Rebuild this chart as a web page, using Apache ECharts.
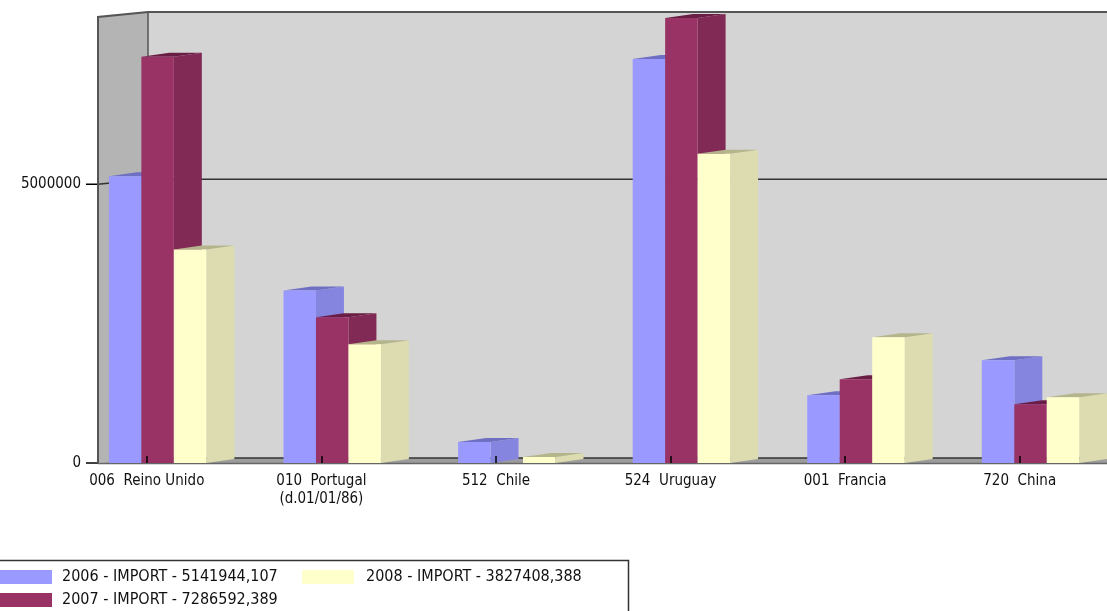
<!DOCTYPE html>
<html>
<head>
<meta charset="utf-8">
<title>IMPORT 2006-2008</title>
<script src="https://cdn.jsdelivr.net/npm/echarts@6/dist/echarts.min.js"></script>
<style>
  html, body { margin: 0; padding: 0; background: #ffffff; }
  #chart { width: 1107px; height: 611px; }
</style>
</head>
<body>
<div id="chart"></div>
<script>
// ---- data ----
const categories = [
  '006  Reino Unido',
  '010  Portugal\n(d.01/01/86)',
  '512  Chile',
  '524  Uruguay',
  '001  Francia',
  '720  China'
];
const years = ['2006', '2007', '2008'];
const import2006 = [5141944.107, 3096000, 376000, 7248000, 1217000, 1843000];
const import2007 = [7286592.389, 2613000, 0, 7980000, 1503000, 1056000];
const import2008 = [3827408.388, 2130000, 107000, 5548000, 2255000, 1181000];
const yTicks = [0, 5000000];
const yMax = 8000000;

// ---- look ----
const FONT = "'DejaVu Sans Condensed', 'Liberation Sans', sans-serif";
const faceColors = [
  { front: '#9999ff', side: '#8585e0', top: '#6f6fc4' },
  { front: '#993366', side: '#822a56', top: '#6a1e44' },
  { front: '#ffffcc', side: '#dcdcb0', top: '#b5b58c' }
];
const GRID = { left: 59.5, top: 17, width: 1050, bottom: 148 };
const FRONT_X = 98;                 // front edge of the side wall / value axis
const WALL_DX = 50, WALL_DY = -5;   // depth of the walls
const BAR_DX = 28, BAR_DY = -4;     // depth of each bar
const BAR_W_FRAC = 0.186;           // bar width as part of a category band
const GROUP_OFFSET_FRAC = 0.217;    // left of first bar, from band centre

const seriesValues = [import2006, import2007, import2008];

function legendLabel(i) {
  return years[i] + ' - IMPORT - ' + seriesValues[i][0].toFixed(3).replace('.', ',');
}

// Walls, floor, back grid lines and value ticks of the 3D box
function renderBox(params, api) {
  const cs = params.coordSys;
  const xRight = cs.x + cs.width;
  const y0 = api.coord([0, 0])[1];
  const yTop = api.coord([0, yMax])[1];
  const bx = FRONT_X + WALL_DX;
  const children = [
    { type: 'polygon', shape: { points: [[FRONT_X, yTop], [bx, yTop + WALL_DY], [bx, y0 + WALL_DY], [FRONT_X, y0]] },
      style: { fill: '#b4b4b4' } },
    { type: 'rect', shape: { x: bx, y: yTop + WALL_DY, width: xRight - bx, height: y0 - yTop },
      style: { fill: '#d4d4d4' } },
    { type: 'polygon', shape: { points: [[FRONT_X, y0], [bx, y0 + WALL_DY], [xRight + WALL_DX, y0 + WALL_DY], [xRight, y0]] },
      style: { fill: '#9c9c9c' } }
  ];
  yTicks.forEach(function (t) {
    const y = api.coord([0, t])[1];
    children.push({ type: 'line', shape: { x1: FRONT_X - 12, y1: y, x2: FRONT_X, y2: y },
      style: { stroke: '#000000', lineWidth: 1.5 } });
    if (t <= 0 || t >= yMax) return;
    children.push({ type: 'polyline', shape: { points: [[FRONT_X, y], [bx, y + WALL_DY], [xRight, y + WALL_DY]] },
      style: { stroke: '#333333', lineWidth: 1.5, fill: null } });
  });
  // box outline
  children.push({ type: 'polyline', shape: { points: [[FRONT_X, y0], [FRONT_X, yTop], [bx, yTop + WALL_DY], [xRight, yTop + WALL_DY]] },
    style: { stroke: '#555555', lineWidth: 2, fill: null } });
  children.push({ type: 'line', shape: { x1: bx, y1: yTop + WALL_DY, x2: bx, y2: y0 + WALL_DY },
    style: { stroke: '#555555', lineWidth: 1.5 } });
  children.push({ type: 'line', shape: { x1: bx, y1: y0 + WALL_DY, x2: xRight, y2: y0 + WALL_DY },
    style: { stroke: '#333333', lineWidth: 1.5 } });
  children.push({ type: 'line', shape: { x1: FRONT_X, y1: y0 + 0.5, x2: xRight, y2: y0 + 0.5 },
    style: { stroke: '#666666', lineWidth: 1.5 } });
  return { type: 'group', children: children };
}

// A 3D column: front face, right side face and top face
function barRenderer(idx) {
  const c = faceColors[idx];
  return function (params, api) {
    const v = api.value(1);
    if (!(v > 0)) return null;
    const cat = api.value(0);
    const base = api.coord([cat, 0]);
    const top = api.coord([cat, v]);
    const band = api.size([1, 0])[0];
    const w = band * BAR_W_FRAC;
    const x0 = base[0] - band * GROUP_OFFSET_FRAC + idx * w;
    const x1 = x0 + w;
    const yb = base[1], yt = top[1];
    return {
      type: 'group',
      children: [
        { type: 'polygon', shape: { points: [[x1, yt], [x1 + BAR_DX, yt + BAR_DY], [x1 + BAR_DX, yb + BAR_DY], [x1, yb]] },
          style: { fill: c.side } },
        { type: 'polygon', shape: { points: [[x0, yt], [x0 + BAR_DX, yt + BAR_DY], [x1 + BAR_DX, yt + BAR_DY], [x1, yt]] },
          style: { fill: c.top } },
        { type: 'rect', shape: { x: x0, y: yt, width: w, height: yb - yt },
          style: { fill: c.front } }
      ]
    };
  };
}

const series = [{
  type: 'custom',
  name: 'box',
  silent: true,
  z: 1,
  renderItem: renderBox,
  data: [[0, 0]],
  encode: { x: 0, y: 1 }
}];
seriesValues.forEach(function (vals, i) {
  series.push({
    type: 'custom',
    name: legendLabel(i),
    z: 2 + i,
    renderItem: barRenderer(i),
    encode: { x: 0, y: 1 },
    data: vals.map(function (v, k) { return [k, v]; })
  });
});

// Legend box drawn as graphic elements
const legendPos = [[0, 570, 62], [0, 593, 62], [302, 570, 366]];
const graphic = [{
  type: 'rect', z: 0,
  shape: { x: -5, y: 560.5, width: 633.5, height: 60 },
  style: { fill: '#ffffff', stroke: '#333333', lineWidth: 1.5 }
}];
legendPos.forEach(function (p, i) {
  graphic.push({ type: 'rect', shape: { x: p[0], y: p[1], width: 52, height: 14 },
    style: { fill: faceColors[i].front } });
  graphic.push({ type: 'text', x: p[2], y: p[1] + 7,
    style: { text: legendLabel(i), fill: '#111111', font: '16px ' + FONT, verticalAlign: 'middle', align: 'left' } });
});

const chart = echarts.init(document.getElementById('chart'), null, { renderer: 'canvas' });
chart.setOption({
  animation: false,
  backgroundColor: '#ffffff',
  grid: { left: GRID.left, top: GRID.top, width: GRID.width, bottom: GRID.bottom, containLabel: false },
  xAxis: {
    type: 'category',
    data: categories,
    z: 10,
    axisLine: { show: false },
    axisTick: { show: true, inside: true, length: 7, alignWithLabel: true, lineStyle: { color: '#000000', width: 1.5 } },
    axisLabel: { margin: 9, color: '#111111', fontFamily: FONT, fontSize: 15, lineHeight: 18, interval: 0 },
    splitLine: { show: false }
  },
  yAxis: {
    type: 'value',
    min: 0,
    max: yMax,
    interval: 5000000,
    offset: -(FRONT_X - GRID.left),
    axisLine: { show: false },
    axisTick: { show: false },
    axisLabel: {
      margin: 17, color: '#111111', fontFamily: FONT, fontSize: 15,
      formatter: function (v) { return yTicks.indexOf(v) >= 0 ? String(v) : ''; }
    },
    splitLine: { show: false }
  },
  graphic: graphic,
  series: series
});
</script>
</body>
</html>
